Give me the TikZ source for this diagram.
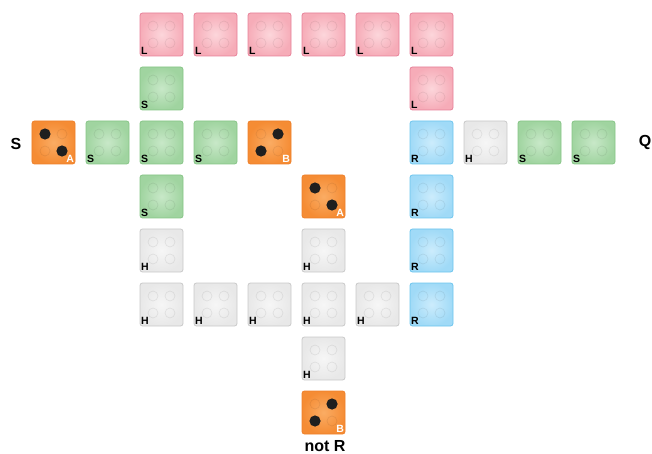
\documentclass[tikz,border=0pt]{standalone}
\usepackage{fontspec}
\setmainfont{Liberation Sans}
\usetikzlibrary{calc}
\definecolor{pinkin}{RGB}{252,214,219}
\definecolor{pinkout}{RGB}{246,172,184}
\definecolor{pinkbd}{RGB}{231,128,152}
\definecolor{grnin}{RGB}{200,232,200}
\definecolor{grnout}{RGB}{160,212,160}
\definecolor{grnbd}{RGB}{134,197,134}
\definecolor{bluin}{RGB}{204,236,252}
\definecolor{bluout}{RGB}{160,218,247}
\definecolor{blubd}{RGB}{108,197,238}
\definecolor{gryin}{RGB}{246,246,246}
\definecolor{gryout}{RGB}{232,232,232}
\definecolor{grybd}{RGB}{200,200,200}
\definecolor{orain}{RGB}{250,172,100}
\definecolor{oraout}{RGB}{245,140,52}
\definecolor{orabd}{RGB}{238,128,42}
% faint holes and pips of a tile
\newcommand\tileholes{%
  \foreach \hx/\hy in {-8.5/8.5,8.5/8.5,-8.5/-8.5,8.5/-8.5}
    \draw[black,opacity=0.07,line width=0.7pt]
      ($(path picture bounding box.center)+(\hx pt,\hy pt)$) circle (5pt);}
\newcommand\pip[2]{\fill[black!88] ($(path picture bounding box.center)+(#1pt,#2pt)$) circle (5.6pt);}

\begin{document}
\begin{tikzpicture}[x=54pt,y=-54pt,
  tile/.style={rectangle,rounded corners=2.5pt,minimum size=43pt,inner sep=0pt,
    line width=0.8pt,path picture={\tileholes}},
  lab/.style={font=\bfseries\fontsize{10.5}{10.5}\selectfont,inner sep=1.3pt,anchor=south west},
  tileL/.style={tile,draw=pinkbd,inner color=pinkin,outer color=pinkout,label={[lab]south west:L}},
  tileS/.style={tile,draw=grnbd,inner color=grnin,outer color=grnout,label={[lab]south west:S}},
  tileR/.style={tile,draw=blubd,inner color=bluin,outer color=bluout,label={[lab]south west:R}},
  tileH/.style={tile,draw=grybd,inner color=gryin,outer color=gryout,label={[lab]south west:H}},
  die/.style={tile,draw=orabd,inner color=orain,outer color=oraout},
  dieA/.style={die,path picture={\tileholes\pip{-8.5}{8.5}\pip{8.5}{-8.5}},
    label={[lab,text=white,anchor=south east]south east:A}},
  dieB/.style={die,path picture={\tileholes\pip{8.5}{8.5}\pip{-8.5}{-8.5}},
    label={[lab,text=white,anchor=south east]south east:B}},
  endtxt/.style={font=\bfseries\fontsize{16}{16}\selectfont,inner sep=0pt}]
  \useasboundingbox (-53.5pt,34.5pt) rectangle (598.5pt,-419.5pt);
  % L tiles
  \foreach \c/\r [count=\i] in {2/0,3/0,4/0,5/0,6/0,7/0,7/1}
    \node[tileL] (l\i) at (\c,\r) {};
  % S tiles
  \foreach \c/\r [count=\i] in {2/1,1/2,2/2,3/2,2/3,9/2,10/2}
    \node[tileS] (s\i) at (\c,\r) {};
  % R tiles
  \foreach \r [count=\i] in {2,...,5}
    \node[tileR] (r\i) at (7,\r) {};
  % H tiles
  \foreach \c/\r [count=\i] in {8/2,2/4,5/4,2/5,3/5,4/5,5/5,6/5,5/6}
    \node[tileH] (h\i) at (\c,\r) {};
  % dice
  \node[dieA] (a1) at (0,2) {};
  \node[dieB] (b1) at (4,2) {};
  \node[dieA] (a2) at (5,3) {};
  \node[dieB] (b2) at (5,7) {};
  \node[endtxt] (start) at (-0.694,2.03) {S};
  \node[endtxt] (goal) at (10.954,2.0) {Q};
  \node[endtxt] (notr) at (5.028,7.62) {not R};
\end{tikzpicture}
\end{document}
